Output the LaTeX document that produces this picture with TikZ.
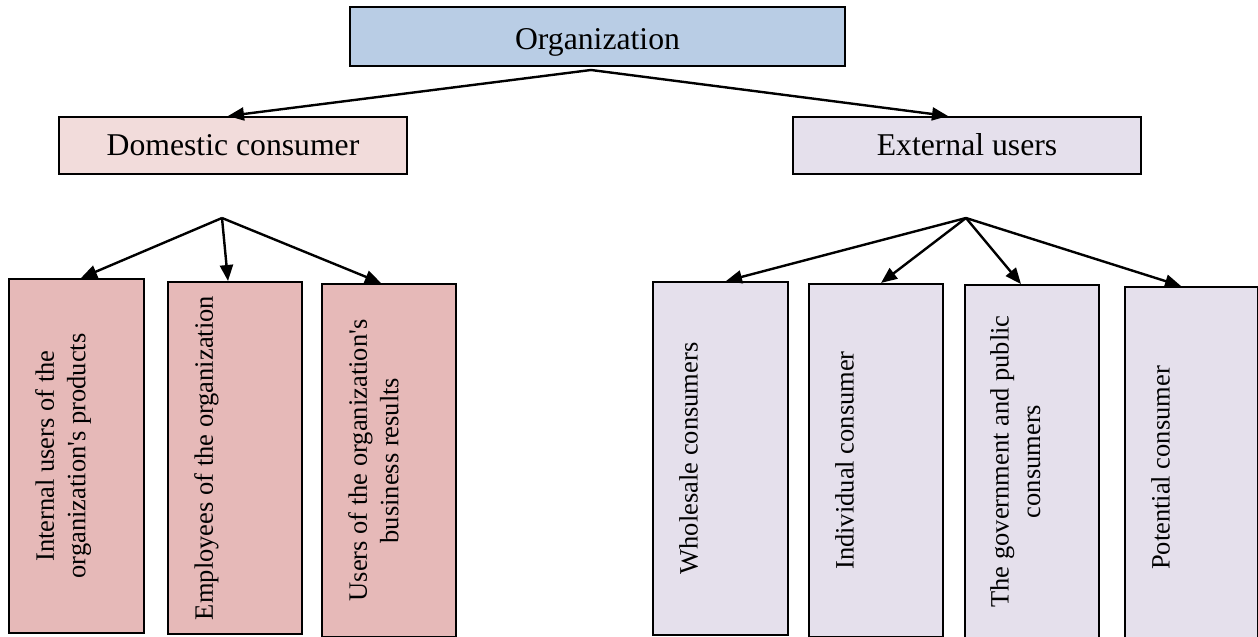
\documentclass[tikz,border=0pt]{standalone}
\usepackage{fontspec}
\setmainfont{Liberation Serif}
\newfontfamily\tnr{Liberation Serif}
\usetikzlibrary{arrows.meta}
\definecolor{orgblue}{HTML}{B9CDE5}
\definecolor{dompink}{HTML}{F2DCDB}
\definecolor{extlilac}{HTML}{E5E0EC}
\definecolor{domrose}{HTML}{E6B9B8}
\begin{document}
\begin{tikzpicture}[x=1bp,y=-1bp,
  box/.style={draw=black, line width=2bp, rectangle, inner sep=0pt, anchor=north west},
  headbox/.style={box, font=\tnr\fontsize{31.7bp}{38bp}\selectfont, text depth=0pt},
  leaftext/.style={rotate=90, anchor=north, align=center, inner sep=0pt,
    font=\tnr\fontsize{26.5bp}{31.5bp}\selectfont},
  conn/.style={line width=2.4bp, -{Triangle[length=16bp,width=13bp]}}
]
\useasboundingbox (0,0) rectangle (1258,637);

% head boxes
\node[headbox, fill=orgblue, minimum width=495bp, minimum height=59bp, text height=25.6bp] (org) at (349,6) {Organization};
\node[headbox, fill=dompink, minimum width=348bp, minimum height=57bp, text height=21bp] (dom) at (58,116) {Domestic consumer};
\node[headbox, fill=extlilac, minimum width=348bp, minimum height=57bp, text height=21bp] (ext) at (792,116) {External users};

% domestic leaves
\node[box, fill=domrose, minimum width=135bp, minimum height=354bp] (d1) at (8,278) {};
\node[box, fill=domrose, minimum width=134bp, minimum height=352bp] (d2) at (167,281) {};
\node[box, fill=domrose, minimum width=134bp, minimum height=353bp] (d3) at (321,283) {};
\node[leaftext] (d1t) at ([xshift=27bp]d1.west) {Internal users of the\\organization's products};
\node[leaftext] (d2t) at ([xshift=27bp]d2.west) {Employees of the organization};
\node[leaftext] (d3t) at ([xshift=27bp]d3.west) {Users of the organization's\\business results};

% external leaves
\node[box, fill=extlilac, minimum width=135bp, minimum height=353bp] (e1) at (652,281) {};
\node[box, fill=extlilac, minimum width=134bp, minimum height=353bp] (e2) at (808,283) {};
\node[box, fill=extlilac, minimum width=134bp, minimum height=353bp] (e3) at (964,284) {};
\node[box, fill=extlilac, minimum width=133bp, minimum height=362bp] (e4) at (1124,286) {};
\node[leaftext] (e1t) at ([xshift=27bp]e1.west) {Wholesale consumers};
\node[leaftext] (e2t) at ([xshift=27bp]e2.west) {Individual consumer};
\node[leaftext] (e3t) at ([xshift=26bp]e3.west) {The government and public\\consumers};
\node[leaftext] (e4t) at ([xshift=27bp]e4.west) {Potential consumer};

% hubs
\coordinate (apex) at (591,70);
\coordinate (dhub) at (222,218);
\coordinate (ehub) at (966,218);

% connectors
\draw[conn] (apex) -- ([xshift=-5bp]dom.north);
\draw[conn] (apex) -- ([xshift=-19bp]ext.north);

\draw[conn] (dhub) -- ([xshift=4.5bp]d1.north);
\draw[conn] (dhub) -- ([xshift=-7bp]d2.north);
\draw[conn] (dhub) -- ([xshift=-8bp]d3.north);

\draw[conn] (ehub) -- ([xshift=5.5bp]e1.north);
\draw[conn] (ehub) -- ([xshift=5bp]e2.north);
\draw[conn] (ehub) -- ([xshift=-11bp]e3.north);
\draw[conn] (ehub) -- ([xshift=-10.5bp]e4.north);
\end{tikzpicture}
\end{document}
